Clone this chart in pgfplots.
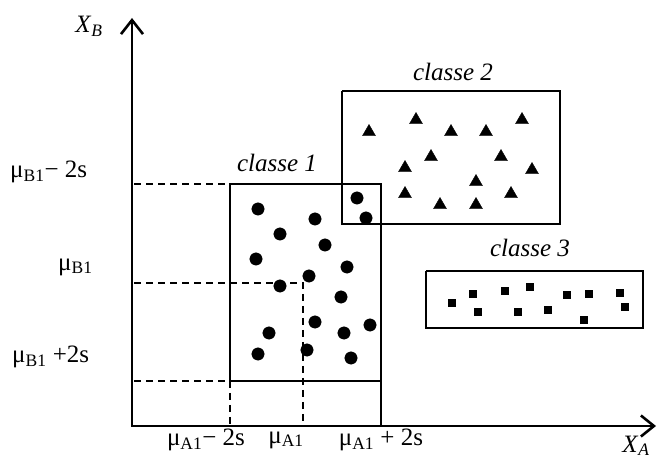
\documentclass[border=0pt]{standalone}
\usepackage{fontspec}
\setmainfont{Liberation Serif}
\usepackage{pgfplots}
\pgfplotsset{compat=1.18}
\usetikzlibrary{arrows.meta}
\begin{document}
\begin{tikzpicture}[lbl/.style={font=\fontsize{25}{29}\selectfont, inner sep=0pt}]
\begin{axis}[width=657pt,height=461pt,scale only axis,
  xmin=0,xmax=657,ymin=0,ymax=461, axis lines=none, clip=false]
% axes
\addplot[black, line width=2.6pt, line join=miter,
  {Straight Barb[length=14pt,width=22pt]}-{Straight Barb[length=13pt,width=21pt]}]
  coordinates {(132,443) (132,35) (656,35)};
% boxes
\addplot[black, line width=1.8pt] coordinates {(230,80) (230,277) (381,277) (381,35)};
\addplot[black, line width=1.8pt] coordinates {(230,80) (381,80)};
\addplot[black, line width=1.8pt] coordinates {(342,370) (560,370) (560,237) (342,237) (342,370)};
\addplot[black, line width=1.8pt] coordinates {(426,190) (643,190) (643,133) (426,133) (426,190)};
% dashed
\addplot[black, line width=1.5pt, dash pattern=on 7pt off 5pt] coordinates {(134,277) (230,277)};
\addplot[black, line width=1.5pt, dash pattern=on 7pt off 5pt] coordinates {(134,178) (303,178) (303,35)};
\addplot[black, line width=1.5pt, dash pattern=on 7pt off 5pt] coordinates {(134,80) (230,80)};
\addplot[black, line width=1.5pt, dash pattern=on 7pt off 5pt] coordinates {(230,80) (230,35)};
% classe 1
\addplot[only marks, mark=*, mark size=6.2pt, black] coordinates {
(258,252) (315,242) (280,227) (325,216) (256,202) (309,185) (280,175)
(347,194) (341,164) (315,139) (269,128) (344,128) (370,136) (258,107)
(307,111) (351,103) (357,263) (366,243)};
% classe 2
\addplot[only marks, mark=triangle*, mark size=7.5pt, black] coordinates {
(369,329) (416,341) (451,329) (486,329) (522,341) (431,304) (501,304)
(405,293) (532,291) (476,279) (405,267) (511,267) (440,256) (476,256)};
% classe 3
\addplot[only marks, mark=square*, mark size=3.5pt, black] coordinates {
(452,158) (473,167) (478,149) (505,170) (518,149) (530,174) (548,151)
(567,166) (584,141) (589,167) (620,168) (625,154)};
% labels
\node[lbl] at (axis cs:89,435) {\textit{X}\textsubscript{\textit{B}}};
\node[lbl, anchor=south] at (axis cs:636,5) {\textit{X}\textsubscript{\textit{A}}};
\node[lbl, anchor=west] at (axis cs:10,289) {μ\textsubscript{B1}− 2s};
\node[lbl, anchor=west] at (axis cs:58,194) {μ\textsubscript{B1}};
\node[lbl, anchor=west] at (axis cs:12,104) {μ\textsubscript{B1} +2s};
\node[lbl] at (axis cs:206,21) {μ\textsubscript{A1}− 2s};
\node[lbl] at (axis cs:286,21) {μ\textsubscript{A1}};
\node[lbl] at (axis cs:381,21) {μ\textsubscript{A1} + 2s};
\node[lbl] at (axis cs:277,298) {\textit{classe 1}};
\node[lbl] at (axis cs:453,389) {\textit{classe 2}};
\node[lbl] at (axis cs:530,213) {\textit{classe 3}};
\end{axis}
\pgfresetboundingbox
\path (current axis.south west) rectangle (current axis.north east);
\end{tikzpicture}
\end{document}
